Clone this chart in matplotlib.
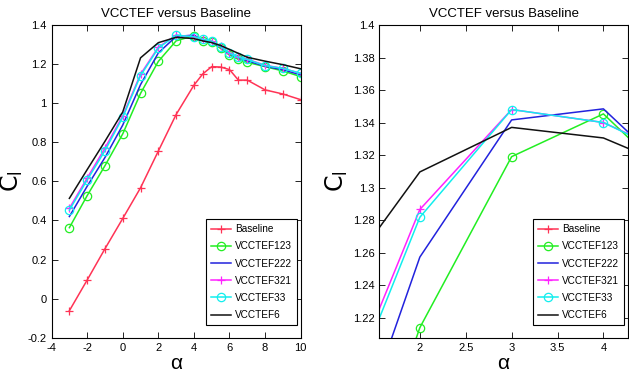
import matplotlib
matplotlib.use("Agg")
import matplotlib.pyplot as plt
from matplotlib.ticker import FuncFormatter

plt.rcParams['font.family'] = ['Liberation Sans', 'DejaVu Sans']

# angle of attack (deg)
alpha = [-3, -2, -1, 0, 1, 2, 3, 4, 4.5, 5, 5.5, 6, 6.5, 7, 8, 9, 10]

# lift coefficient per configuration
cl_baseline = [-0.062, 0.095, 0.255, 0.41, 0.567, 0.755, 0.942, 1.092, 1.150,
               1.187, 1.185, 1.172, 1.118, 1.118, 1.068, 1.047, 1.018]
cl_123 = [0.363, 0.527, 0.680, 0.843, 1.050, 1.2138, 1.319, 1.3453, 1.3184,
          1.311, 1.280, 1.246, 1.224, 1.209, 1.187, 1.165, 1.136]
cl_222 = [0.420, 0.575, 0.722, 0.888, 1.095, 1.2572, 1.3416, 1.3484, 1.3219,
          1.312, 1.288, 1.253, 1.232, 1.217, 1.189, 1.171, 1.145]
cl_321 = [0.462, 0.617, 0.770, 0.935, 1.148, 1.2865, 1.348, 1.340, 1.327,
          1.318, 1.291, 1.258, 1.237, 1.225, 1.194, 1.178, 1.152]
cl_33 = [0.453, 0.607, 0.757, 0.928, 1.141, 1.2817, 1.348, 1.340, 1.3265,
         1.317, 1.290, 1.255, 1.235, 1.224, 1.192, 1.178, 1.153]
cl_6 = [0.513, 0.660, 0.805, 0.955, 1.232, 1.3096, 1.337, 1.3305, 1.3186,
        1.310, 1.295, 1.275, 1.255, 1.235, 1.215, 1.197, 1.176]

series = [
    ("Baseline", cl_baseline, "#ff3355", "+"),
    ("VCCTEF123", cl_123, "#22ee22", "o"),
    ("VCCTEF222", cl_222, "#2222dd", None),
    ("VCCTEF321", cl_321, "#ff22ff", "+"),
    ("VCCTEF33", cl_33, "#11eeee", "o"),
    ("VCCTEF6", cl_6, "#111111", None),
]


def fmt(v, pos):
    return "%g" % round(v, 4)


def draw(ax):
    for name, cl, col, mk in series:
        ax.plot(alpha, cl, color=col, marker=mk, markersize=6, lw=1.1,
                markerfacecolor="none", markeredgewidth=0.9, label=name)
    ax.set_title("VCCTEF versus Baseline", fontsize=9.5)
    ax.set_xlabel("α", fontsize=15, labelpad=1)
    ax.set_ylabel(r"$\mathrm{C_l}$", fontsize=17, labelpad=2)
    ax.tick_params(direction="in", top=True, right=True, labelsize=8,
                   length=4, width=0.6)
    ax.yaxis.set_major_formatter(FuncFormatter(fmt))
    ax.xaxis.set_major_formatter(FuncFormatter(fmt))
    for sp in ax.spines.values():
        sp.set_linewidth(0.8)
    leg = ax.legend(loc="lower right", bbox_to_anchor=(0.985, 0.04),
                    borderaxespad=0, fontsize=7.2, fancybox=False,
                    framealpha=1, edgecolor="black", handlelength=2.0,
                    handletextpad=0.4, borderpad=0.5, labelspacing=0.72)
    leg.get_frame().set_linewidth(0.8)


fig = plt.figure(figsize=(6.29, 3.79), dpi=100)

ax1 = fig.add_axes([0.082, 0.109, 0.396, 0.825])
draw(ax1)
ax1.set_xlim(-4, 10)
ax1.set_ylim(-0.2, 1.4)
ax1.set_xticks(range(-4, 11, 2))
ax1.set_yticks([-0.2, 0, 0.2, 0.4, 0.6, 0.8, 1.0, 1.2, 1.4])

ax2 = fig.add_axes([0.603, 0.109, 0.395, 0.825])
draw(ax2)
ax2.set_xlim(1.558, 4.265)
ax2.set_ylim(1.2076, 1.4)
ax2.set_xticks([2, 2.5, 3, 3.5, 4])
ax2.set_yticks([1.22, 1.24, 1.26, 1.28, 1.3, 1.32, 1.34, 1.36, 1.38, 1.4])

fig.savefig("out.png", dpi=100)
